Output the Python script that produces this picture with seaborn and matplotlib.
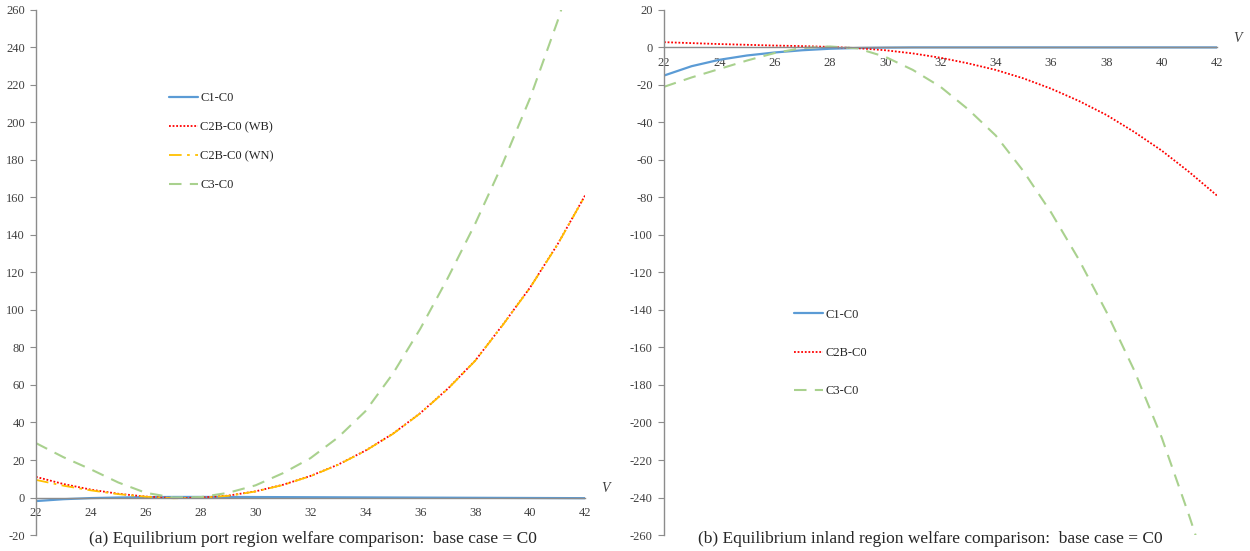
import numpy as np
import pandas as pd
import matplotlib
matplotlib.use("Agg")
import matplotlib.pyplot as plt
import seaborn as sns

# V grid (x axis) shared by both panels
v = list(range(22, 43))

# (a) port region welfare differences
port_c1 = [-1.9, -0.9, -0.3, 0.0, 0.2, 0.3, 0.3, 0.3, 0.25, 0.2, 0.15,
           0.1, 0.05, 0.0, -0.05, -0.1, -0.15, -0.2, -0.25, -0.3, -0.35]
port_c2b_wb = [11.0, 7.2, 4.2, 2.0, 0.5, -0.3, -0.1, 1.0, 3.3, 6.8, 11.5,
               17.5, 25.0, 34.0, 45.0, 58.0, 73.0, 92.0, 112.0, 135.0, 161.0]
port_c2b_wn = [9.4, 6.3, 3.8, 1.8, 0.4, -0.4, -0.2, 0.9, 3.2, 6.7, 11.4,
               17.4, 24.9, 33.9, 44.9, 57.9, 72.9, 91.9, 111.9, 134.9, 160.9]
port_c3 = [29.0, 21.5, 15.0, 8.0, 2.5, 0.0, 0.2, 2.5, 6.5, 13.0, 21.0,
           32.0, 46.0, 66.0, 90.0, 117.0, 146.0, 178.0, 213.0, 254.0, 300.0]

# (b) inland region welfare differences
inland_c1 = [-15.0, -10.0, -6.6, -4.3, -2.7, -1.5, -0.7, -0.3, -0.1, 0.0, 0.0,
             0.0, 0.0, 0.0, 0.0, 0.0, 0.0, 0.0, 0.0, 0.0, 0.0]
inland_c2b = [2.8, 2.3, 1.8, 1.4, 1.0, 0.7, 0.3, -0.4, -1.5, -3.2, -5.5,
              -8.5, -12.0, -16.5, -22.0, -28.5, -36.0, -45.0, -55.0, -66.5, -79.0]
inland_c3 = [-21.0, -16.0, -11.5, -7.0, -3.0, -0.3, 0.5, -0.5, -5.0, -12.0, -21.0,
             -33.0, -47.0, -66.0, -88.0, -113.0, -141.0, -172.0, -208.0, -250.0, -295.0]

x_ticks = list(range(22, 43, 2))
port_y_ticks = list(range(-20, 261, 20))
inland_y_ticks = list(range(-260, 21, 20))

BLUE = "#5B9BD5"
RED = "#FF0000"
YELLOW = "#FFC000"
GREEN = "#A9D18E"
AXIS = "#8C8C8C"

sns.set_style("white")
plt.rcParams["font.family"] = ["Liberation Serif", "DejaVu Serif"]
plt.rcParams["axes.unicode_minus"] = False

fig = plt.figure(figsize=(12.5, 5.51), dpi=100)
ax1 = fig.add_axes([0.0288, 0.029, 0.4392, 0.953])
ax2 = fig.add_axes([0.5312, 0.029, 0.4424, 0.953])

port = pd.DataFrame({"V": v, "C1-C0": port_c1, "C2B-C0 (WB)": port_c2b_wb,
                     "C2B-C0 (WN)": port_c2b_wn, "C3-C0": port_c3})
inland = pd.DataFrame({"V": v, "C1-C0": inland_c1, "C2B-C0": inland_c2b,
                       "C3-C0": inland_c3})

styles = {
    "C1-C0": dict(color=BLUE, linestyle="-", linewidth=1.6),
    "C2B-C0 (WB)": dict(color=RED, linestyle=(0, (1, 1)), linewidth=1.3),
    "C2B-C0 (WN)": dict(color=YELLOW, linestyle=(0, (7, 3, 1.5, 3)), linewidth=1.3),
    "C2B-C0": dict(color=RED, linestyle=(0, (1, 1)), linewidth=1.3),
    "C3-C0": dict(color=GREEN, linestyle=(0, (6, 4)), linewidth=1.5),
}

for col in ["C1-C0", "C2B-C0 (WB)", "C2B-C0 (WN)", "C3-C0"]:
    sns.lineplot(data=port, x="V", y=col, ax=ax1, label=col, **styles[col])
for col in ["C1-C0", "C2B-C0", "C3-C0"]:
    sns.lineplot(data=inland, x="V", y=col, ax=ax2, label=col, **styles[col])


def style_axes(ax, yticks):
    ax.set_xlim(22, 42)
    ax.set_ylim(yticks[0], yticks[-1])
    ax.set_xticks(x_ticks)
    ax.set_yticks(yticks)
    ax.set_xlabel("")
    ax.set_ylabel("")
    ax.spines["top"].set_visible(False)
    ax.spines["right"].set_visible(False)
    ax.spines["bottom"].set_position(("data", 0))
    for s in ["left", "bottom"]:
        ax.spines[s].set_color(AXIS)
        ax.spines[s].set_linewidth(1.0)
    ax.tick_params(axis="x", length=0, pad=7, labelsize=9, colors="#404040")
    ax.tick_params(axis="y", length=4, width=0.8, color=AXIS, pad=4,
                   labelsize=9, labelcolor="#404040", left=True)
    ax.text(42.75, 1.5, "V", style="italic", ha="center", va="bottom",
            fontsize=10, color="#404040", clip_on=False)


style_axes(ax1, port_y_ticks)
style_axes(ax2, inland_y_ticks)

ax1.legend(loc="upper left", bbox_to_anchor=(0.231, 0.855), frameon=False,
           borderpad=0, labelspacing=1.35, handlelength=2.3, handletextpad=0.2,
           fontsize=9)
ax2.legend(loc="upper left", bbox_to_anchor=(0.224, 0.443), frameon=False,
           borderpad=0, labelspacing=2.1, handlelength=2.3, handletextpad=0.2,
           fontsize=9)

fig.text(0.25, 0.021, "(a) Equilibrium port region welfare comparison:  base case = C0",
         ha="center", va="center", fontsize=12.5, color="#262626")
fig.text(0.744, 0.021, "(b) Equilibrium inland region welfare comparison:  base case = C0",
         ha="center", va="center", fontsize=12.5, color="#262626")

fig.savefig("out.png", dpi=100)
